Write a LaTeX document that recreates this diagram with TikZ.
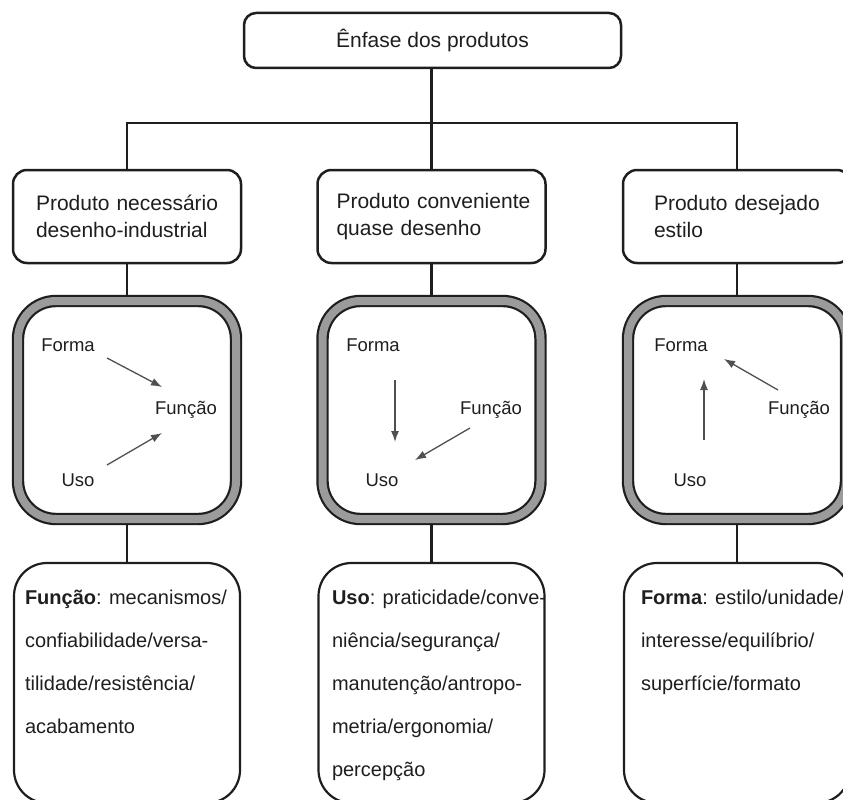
\documentclass[tikz,border=0pt]{standalone}
\usepackage{fontspec}
\setmainfont{Liberation Sans}
\usetikzlibrary{arrows.meta,calc}
\definecolor{ink}{HTML}{1E1E1E}
\definecolor{ringgray}{HTML}{9B9B9B}
\definecolor{arrowgray}{HTML}{505050}
\begin{document}
\begin{tikzpicture}[x=1pt,y=-1pt,
  every node/.style={inner sep=0pt, outer sep=0pt, text=ink},
  rootbox/.style={draw=ink, line width=2.5pt, rounded corners=12pt, fill=white,
    minimum width=377pt, minimum height=55pt, font=\fontsize{21}{25}\selectfont},
  catbox/.style={draw=ink, line width=2.5pt, rounded corners=14pt, fill=white,
    minimum height=93pt, align=left, font=\fontsize{21}{27}\selectfont},
  ring/.style={draw=ink, line width=2.2pt, double=ringgray, double distance=8pt,
    rounded corners=38pt, minimum width=218pt, minimum height=218pt, outer sep=6.2pt},
  listbox/.style={draw=ink, line width=2.2pt, rounded corners=33pt,
    minimum width=226pt, minimum height=240pt},
  listtext/.style={anchor=north west, align=left, font=\fontsize{20}{43}\selectfont},
  lbl/.style={font=\fontsize{18.5}{22}\selectfont},
  link/.style={draw=ink, line width=2.5pt},
  arr/.style={draw=arrowgray, line width=1.3pt, -{Latex[length=11pt,width=8pt]}}]
\useasboundingbox (0,0) rectangle (843,800);
\clip (0,0) rectangle (843,800);

% top node
\node[rootbox] (root) at (432.5,40.5) {Ênfase dos produtos};
\coordinate (hub) at (431.5,123);

% the three product categories
\node[catbox, text width=182pt, inner xsep=23pt] (c1) at (127,216.5)
  {\mbox{Produto necessário}\\\mbox{desenho-industrial}};
\node[catbox, text width=190pt, inner xsep=19pt] (c2) at (431.5,216.5)
  {\mbox{Produto conveniente}\\\mbox{quase desenho}};
\node[catbox, text width=166pt, inner xsep=31pt] (c3) at (737,216.5)
  {\mbox{Produto desejado}\\\mbox{estilo}};

% framed relation diagrams
\node[ring] (f1) at (127,410) {};
\node[ring] (f2) at (431.5,410) {};
\node[ring] (f3) at (737,410) {};

% lists of attributes
\node[listbox] (l1) at (127,683) {};
\node[listbox] (l2) at (431.5,683) {};
\node[listbox] (l3) at (737,683) {};

% tree connectors
\draw[link] (root.south -| hub) -- (hub);
\draw[link] (c1.north) |- (hub) -| (c3.north);
\draw[link] (hub) -- (c2.north);
\foreach \i in {1,2,3} {
  \draw[link] (c\i.south) -- (f\i.north);
  \draw[link] (f\i.south) -- (l\i.north);
}

% first frame: Forma and Uso lead to Função
\node[lbl] (fo1) at (68,345) {Forma};
\node[lbl] (fu1) at (186,410) {Função};
\node[lbl] (us1) at (78,480) {Uso};
\draw[arr] ($(fo1)+(39,13)$) -- ($(fu1)+(-24,-23)$);
\draw[arr] ($(us1)+(29,-15)$) -- ($(fu1)+(-24,23)$);

% second frame: Forma and Função lead to Uso
\node[lbl] (fo2) at (373,345) {Forma};
\node[lbl] (fu2) at (491,410) {Função};
\node[lbl] (us2) at (382,480) {Uso};
\draw[arr] ($(fo2)+(22,35)$) -- ($(fo2)+(22,97)$);
\draw[arr] ($(fu2)+(-21,18)$) -- ($(us2)+(33,-20)$);

% third frame: Uso and Função lead to Forma
\node[lbl] (fo3) at (681,345) {Forma};
\node[lbl] (fu3) at (799,410) {Função};
\node[lbl] (us3) at (690,480) {Uso};
\draw[arr] ($(us3)+(14,-40)$) -- ($(us3)+(14,-101)$);
\draw[arr] ($(fu3)+(-21,-20)$) -- ($(fo3)+(43,14)$);

% attribute texts
\node[listtext] (t1) at (25,590)
  {\textbf{Função}: mecanismos/\\confiabilidade/versa-\\tilidade/resistência/\\acabamento};
\node[listtext] (t2) at (332,590)
  {\textbf{Uso}: praticidade/conve-\\niência/segurança/\\manutenção/antropo-\\metria/ergonomia/\\percepção};
\node[listtext] (t3) at (641,590)
  {\textbf{Forma}: estilo/unidade/\\interesse/equilíbrio/\\superfície/formato};
\end{tikzpicture}
\end{document}
